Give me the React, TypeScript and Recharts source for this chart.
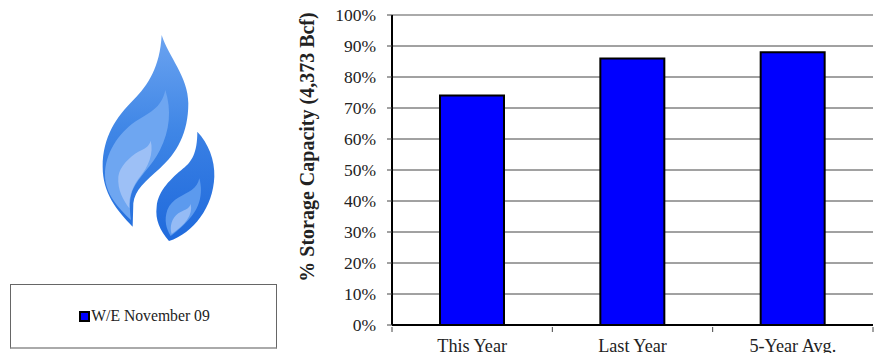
import React from 'react';
import { BarChart, Bar, XAxis, YAxis, CartesianGrid, ReferenceLine } from 'recharts';

const categories = ['This Year', 'Last Year', '5-Year Avg.'];
const storagePct = [74, 86, 88];
const yTicks = [0, 10, 20, 30, 40, 50, 60, 70, 80, 90, 100];
const seriesName = 'W/E November 09';
const axisTitle = '% Storage Capacity (4,373 Bcf)';

const rows = categories.map((name, i) => ({ name, pct: storagePct[i] }));

const WIDTH = 884;
const HEIGHT = 353;
const PLOT_LEFT = 392;
const PLOT_RIGHT = 873;
const BAND = (PLOT_RIGHT - PLOT_LEFT) / categories.length;
const SERIF = '"Liberation Serif", serif';

// x axis ticks sit on the category boundaries, labels stay centred
const CategoryTick = (props: any) => {
  const { x, y, payload, index } = props;
  const right = x + BAND / 2;
  return (
    <g>
      <line x1={right} x2={right} y1={y - 6} y2={y - 1} stroke="#444" strokeWidth={1} />
      {index === 0 && <line x1={x - BAND / 2} x2={x - BAND / 2} y1={y - 6} y2={y - 1} stroke="#444" />}
      <text x={x} y={y + 19} textAnchor="middle" fontFamily={SERIF} fontSize={18.2} fill="#222">
        {payload.value}
      </text>
    </g>
  );
};

const Flames = () => (
  <svg width={WIDTH} height={HEIGHT} style={{ position: 'absolute', left: 0, top: 0 }}>
    <defs>
      <linearGradient id="bigOuter" x1="0" y1="0" x2="0" y2="1">
        <stop offset="0" stopColor="#6ba3f0" />
        <stop offset="0.5" stopColor="#3f86e6" />
        <stop offset="1" stopColor="#2570de" />
      </linearGradient>
      <linearGradient id="smallOuter" x1="0" y1="0" x2="0" y2="1">
        <stop offset="0" stopColor="#3a80e4" />
        <stop offset="1" stopColor="#1f6adc" />
      </linearGradient>
    </defs>
    <g transform="translate(60 20) scale(0.3333)">
      <path
        d="M305 45 C325 110 385 170 385 250 C385 340 350 400 300 445 C255 485 225 510 220 550 L218 620 C170 570 128 520 128 440 C128 350 170 290 220 240 C265 195 300 140 305 45 Z"
        fill="url(#bigOuter)"
      />
      <path
        d="M316 210 C335 270 330 330 300 390 C275 440 235 470 218 510 C208 535 208 565 213 600 C175 565 135 520 135 465 C135 400 175 340 225 305 C265 280 305 265 316 210 Z"
        fill="#6ea6f1"
      />
      <path
        d="M272 362 C282 400 265 440 240 470 C220 495 205 530 208 565 C190 540 172 510 175 470 C178 440 210 410 235 395 C252 387 268 380 272 362 Z"
        fill="#9dc0f6"
      />
      <path
        d="M412 335 C445 370 465 420 463 470 C460 560 400 640 327 663 C300 630 285 600 290 560 C295 510 335 475 370 445 C395 425 412 400 412 335 Z"
        fill="url(#smallOuter)"
      />
      <path
        d="M418 475 C432 525 415 570 385 600 C365 622 345 638 332 648 C318 625 312 600 322 570 C335 535 375 525 395 510 C408 500 415 490 418 475 Z"
        fill="#5c9aee"
      />
      <path
        d="M392 552 C400 585 375 615 335 642 C328 620 335 595 355 580 C370 570 388 568 392 552 Z"
        fill="#95bbf5"
      />
    </g>
  </svg>
);

const LegendBox = () => (
  <div
    style={{
      position: 'absolute',
      left: 10,
      top: 284,
      width: 265,
      height: 62,
      paddingLeft: 0,
      boxSizing: 'content-box',
      borderStyle: 'solid',
      borderColor: '#666',
      borderWidth: 1,
      borderBottomColor: '#aaa',
      borderBottomWidth: 2,
      display: 'flex',
      alignItems: 'center',
      justifyContent: 'center',
      fontFamily: SERIF,
      fontSize: 15.7,
      color: '#222',
      background: '#fff',
    }}
  >
    <span
      style={{
        width: 7,
        height: 7,
        marginLeft: 2,
        background: '#0000ff',
        border: '2px solid #000',
        marginRight: 1,
      }}
    />
    {seriesName}
  </div>
);

export default function App() {
  return (
    <div style={{ position: 'absolute', left: 0, top: 0, width: WIDTH, height: HEIGHT, background: '#fff' }}>
      <Flames />
      <LegendBox />
      <div style={{ position: 'absolute', left: 0, top: 0 }}>
        <BarChart
          width={WIDTH}
          height={HEIGHT}
          data={rows}
          margin={{ top: 15, right: WIDTH - PLOT_RIGHT, bottom: 0, left: 0 }}
        >
          <CartesianGrid vertical={false} stroke="#444" strokeWidth={1} syncWithTicks />
          <XAxis
            dataKey="name"
            height={28}
            interval={0}
            tickLine={false}
            tick={CategoryTick}
            axisLine={{ stroke: '#000', strokeWidth: 2 }}
          />
          <YAxis
            width={PLOT_LEFT}
            domain={[0, 100]}
            ticks={yTicks}
            interval={0}
            tickFormatter={(v: number) => `${v}%`}
            tick={{ fontFamily: SERIF, fontSize: 17.5, fill: '#222' }}
            tickSize={5}
            tickMargin={11}
            tickLine={{ stroke: '#444' }}
            axisLine={{ stroke: '#000', strokeWidth: 2 }}
            label={{
              value: axisTitle,
              angle: -90,
              position: 'center',
              dx: -(PLOT_LEFT / 2 - 307),
              dy: -23,
              style: { fontFamily: SERIF, fontSize: 20, fontWeight: 700, fill: '#222' },
            }}
          />
          <YAxis
            yAxisId="frame"
            orientation="right"
            width={0}
            domain={[0, 100]}
            tick={false}
            tickLine={false}
            axisLine={{ stroke: '#aaa', strokeWidth: 2 }}
          />
          <ReferenceLine y={100} stroke="#aaa" strokeWidth={2} />
          <Bar
            dataKey="pct"
            name={seriesName}
            fill="#0000ff"
            stroke="#000"
            strokeWidth={2}
            barSize={64}
            isAnimationActive={false}
          />
        </BarChart>
      </div>
    </div>
  );
}
